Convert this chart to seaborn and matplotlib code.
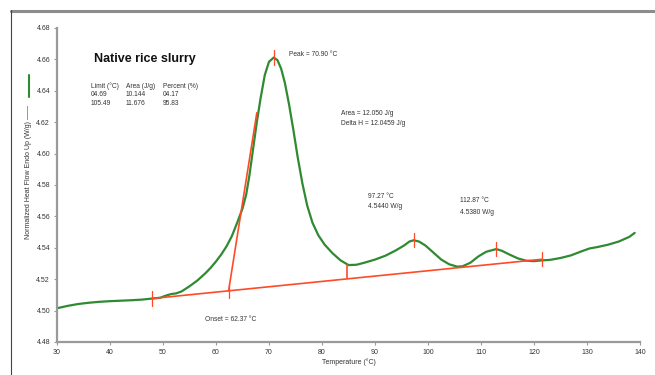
import matplotlib
matplotlib.use("Agg")
import matplotlib.pyplot as plt
from matplotlib.lines import Line2D
import seaborn as sns
import pandas as pd

# ---- data ----
temperature = [30, 32, 34, 36, 38, 40, 42, 44, 46, 48, 49.5, 50.5, 51.5, 52.5, 53.5, 55,
               56.5, 58, 59, 60, 61, 62, 63, 64, 65, 65.7, 66.3, 67, 67.7, 68.4, 69.2,
               70, 70.9, 71.6, 72.3, 73, 73.8, 74.6, 75.4, 76.3, 77.2, 78.2, 79.3, 80.5,
               82, 83.5, 85, 86.5, 88, 90, 92, 94, 95.5, 96.5, 97.3, 98.3, 99.5, 101,
               102.5, 104, 105.5, 106.5, 108, 109.5, 111, 112.9, 114, 115.5, 117, 118.5,
               120, 121.5, 123, 125, 127, 129, 130.5, 132, 134, 136, 138, 139]
heat_flow = [4.5015, 4.5030, 4.5042, 4.5050, 4.5056, 4.5060, 4.5063, 4.5066, 4.5070, 4.5077,
             4.5082, 4.5095, 4.5105, 4.5110, 4.5122, 4.5155, 4.5192, 4.5238, 4.5273, 4.5313,
             4.5358, 4.5410, 4.5475, 4.5560, 4.5650, 4.5740, 4.5860, 4.6030, 4.6200, 4.6350,
             4.6500, 4.6585, 4.6612, 4.6595, 4.6540, 4.6450, 4.6310, 4.6150, 4.5980, 4.5810,
             4.5670, 4.5560, 4.5480, 4.5420, 4.5365, 4.5320, 4.5290, 4.5292, 4.5305, 4.5325,
             4.5350, 4.5385, 4.5415, 4.5440, 4.5448, 4.5440, 4.5415, 4.5370, 4.5325, 4.5295,
             4.5280, 4.5282, 4.5305, 4.5345, 4.5375, 4.5392, 4.5380, 4.5355, 4.5332, 4.5318,
             4.5315, 4.5320, 4.5323, 4.5335, 4.5352, 4.5378, 4.5396, 4.5405, 4.5420, 4.5440,
             4.5470, 4.5495]

baseline_T = [48.0, 121.5]
baseline_v = [4.5077, 4.5327]
tangent_T = [62.37, 67.7]
tangent_v = [4.5125, 4.6260]
marker_T = [48.0, 62.37, 70.90, 97.27, 112.87, 121.5]
marker_v = [4.5077, 4.5125, 4.6612, 4.5448, 4.5392, 4.5327]
delta_T = [84.7, 84.7]
delta_v = [4.5206, 4.5290]

x_ticks = [30, 40, 50, 60, 70, 80, 90, 100, 110, 120, 130, 140]
y_ticks = [4.48, 4.50, 4.52, 4.54, 4.56, 4.58, 4.60, 4.62, 4.64, 4.66, 4.68]
y_tick_labels = ["4.48", "4.50", "4.52", "4.54", "4.56", "4.58", "4.60", "4.62", "4.64", "4.66", "4.68"]

table_header = ["Limit (°C)", "Area (J/g)", "Percent (%)"]
table_row1 = ["04.69", "10.144", "04.17"]
table_row2 = ["105.49", "11.676", "95.83"]

sns.set_style("white")
plt.rcParams['font.family'] = ['Liberation Sans', 'DejaVu Sans']

GREEN = "#2f8a32"
RED = "#ff4a26"
GRAY = "#9a9a9a"
TXT = "#333333"

fig = plt.figure(figsize=(6.55, 3.75), dpi=100)
ax = fig.add_axes([57 / 655, 1 - 342 / 375, (640 - 57) / 655, (342 - 28) / 375])

df = pd.DataFrame({"T": temperature, "v": heat_flow})
sns.lineplot(data=df, x="T", y="v", ax=ax, color=GREEN, lw=1.6, sort=False, estimator=None)
sns.lineplot(x=baseline_T, y=baseline_v, ax=ax, color=RED, lw=1.2, estimator=None)
sns.lineplot(x=tangent_T, y=tangent_v, ax=ax, color=RED, lw=1.2, estimator=None)
sns.lineplot(x=delta_T, y=delta_v, ax=ax, color=RED, lw=1.2, estimator=None, sort=False)
for t, v in zip(marker_T, marker_v):
    ax.plot([t, t], [v - 0.0045, v + 0.0045], color=RED, lw=0.9)

ax.set_xlim(30, 140)
ax.set_ylim(4.48, 4.68)
ax.set_xticks(x_ticks)
ax.set_yticks(y_ticks)
ax.set_yticklabels(y_tick_labels)
ax.tick_params(axis="both", labelsize=5, colors=GRAY, labelcolor=TXT, length=2, width=0.8, pad=3,
               bottom=True, left=True)
for s in ["top", "right"]:
    ax.spines[s].set_visible(False)
for s in ["left", "bottom"]:
    ax.spines[s].set_color(GRAY)
    ax.spines[s].set_linewidth(1.6)
ax.set_xlabel("Temperature (°C)", fontsize=5, color=TXT, labelpad=2)
ax.set_ylabel("")

# rotated y label with legend swatch
fig.text(29 / 655, 1 - 172 / 375, "Normalized Heat Flow Endo Up (W/g) ——", rotation=90,
         fontsize=5, color=TXT, ha="center", va="center")
fig.add_artist(Line2D([29 / 655, 29 / 655], [1 - 75 / 375, 1 - 97 / 375], color=GREEN, lw=1.5))

# frame lines
fig.add_artist(Line2D([11 / 655, 1.0], [1 - 10.5 / 375, 1 - 10.5 / 375], color="#8c8c8c", lw=2.2))
fig.add_artist(Line2D([11 / 655, 11 / 655], [1 - 10 / 375, 0], color="#444444", lw=0.8))

# title and table
ax.text(36.9, 4.6605, "Native rice slurry", fontsize=9, fontweight="bold", color="#111111",
        ha="left", va="center")
cols = [36.4, 43.0, 50.0]
rows = [4.6430, 4.6375, 4.6318]
for r, row in zip(rows, [table_header, table_row1, table_row2]):
    for c, txt in zip(cols, row):
        ax.text(c, r, txt, fontsize=4.8, color=TXT, ha="left", va="center")

# annotations
ax.text(73.8, 4.6630, "Peak = 70.90 °C", fontsize=4.8, color=TXT, ha="left", va="center")
ax.text(83.6, 4.6255, "Area = 12.050 J/g", fontsize=4.8, color=TXT, ha="left", va="center")
ax.text(83.6, 4.6192, "Delta H = 12.0459 J/g", fontsize=4.8, color=TXT, ha="left", va="center")
ax.text(88.7, 4.5725, "97.27 °C", fontsize=4.8, color=TXT, ha="left", va="center")
ax.text(88.7, 4.5662, "4.5440 W/g", fontsize=4.8, color=TXT, ha="left", va="center")
ax.text(106.0, 4.5700, "112.87 °C", fontsize=4.8, color=TXT, ha="left", va="center")
ax.text(106.0, 4.5625, "4.5380 W/g", fontsize=4.8, color=TXT, ha="left", va="center")
ax.text(58.0, 4.4943, "Onset = 62.37 °C", fontsize=4.8, color=TXT, ha="left", va="center")

fig.savefig("out.png", dpi=100, facecolor="white")
